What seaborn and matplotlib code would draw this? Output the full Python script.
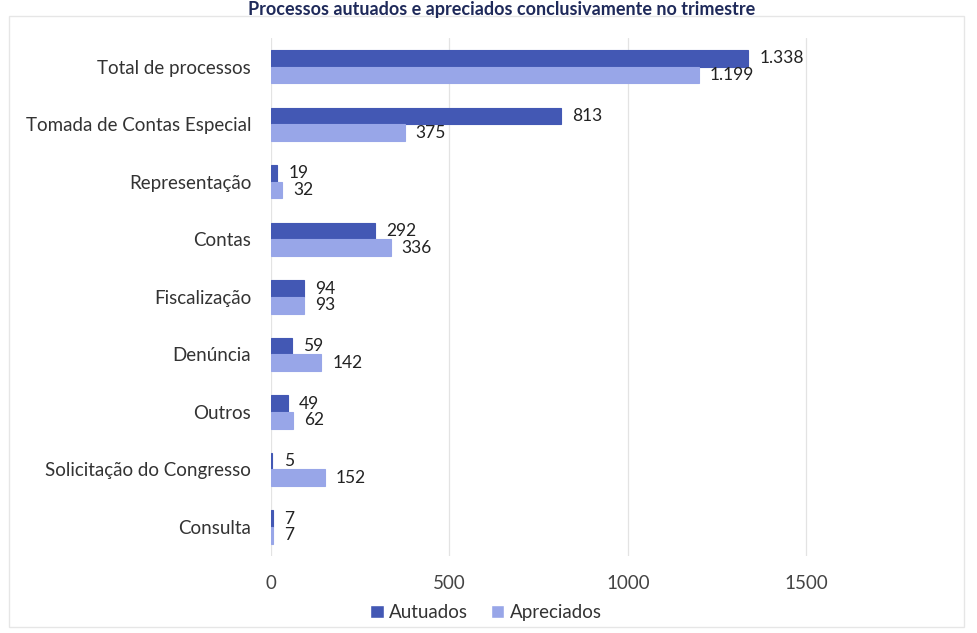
import pandas as pd
import numpy as np
import matplotlib
matplotlib.use("Agg")
import matplotlib.pyplot as plt
from matplotlib.patches import Rectangle
import seaborn as sns

# ------------------------------------------------------------
# Data
# ------------------------------------------------------------
categorias = [
    "Total de processos",
    "Tomada de Contas Especial",
    "Representação",
    "Contas",
    "Fiscalização",
    "Denúncia",
    "Outros",
    "Solicitação do Congresso",
    "Consulta",
]
autuados = [1338, 813, 19, 292, 94, 59, 49, 5, 7]
apreciados = [1199, 375, 32, 336, 93, 142, 62, 152, 7]
series = ["Autuados", "Apreciados"]
xticks = [0, 500, 1000, 1500]

df = pd.DataFrame({
    "categoria": categorias * 2,
    "valor": autuados + apreciados,
    "serie": [series[0]] * len(categorias) + [series[1]] * len(categorias),
})

# ------------------------------------------------------------
# Plot
# ------------------------------------------------------------
sns.set_theme(style="white")
plt.rcParams["font.family"] = ["Lato", "DejaVu Sans"]

fig = plt.figure(figsize=(9.77, 6.33), dpi=100)
ax = fig.add_axes([0.277, 0.122, 0.658, 0.818])

cores = {"Autuados": "#4358B4", "Apreciados": "#98A6E8"}
sns.barplot(data=df, y="categoria", x="valor", hue="serie", order=categorias,
            hue_order=series, palette=cores, width=0.58, orient="h",
            saturation=1, ax=ax)

# thin edge so the tiny bars (5, 7) still show as a line
for cont, s in zip(ax.containers, series):
    for bar in cont:
        bar.set_edgecolor(cores[s])
        bar.set_linewidth(0.8)

def fmt_pt(v):
    return f"{v:,}".replace(",", ".")

for cont, vals in zip(ax.containers, [autuados, apreciados]):
    ax.bar_label(cont, labels=[fmt_pt(v) for v in vals], padding=8,
                 fontsize=12.5, color="#222222")

ax.set_xlim(0, 1800)
ax.set_xticks(xticks)
ax.xaxis.grid(True, color="#E3E3E3", linewidth=0.9)
ax.set_axisbelow(True)
ax.set_xlabel("")
ax.set_ylabel("")
sns.despine(ax=ax, left=True, bottom=True)
ax.tick_params(axis="y", labelsize=13.5, colors="#333333", length=0, pad=14)
ax.tick_params(axis="x", labelsize=13.5, colors="#444444", length=0, pad=14)

ax.legend(loc="upper center", bbox_to_anchor=(0.335, -0.06), ncol=2,
          frameon=False, fontsize=13.5, handlelength=0.7, handleheight=0.7,
          handletextpad=0.3, columnspacing=1.2, labelcolor="#333333")

# title at the very top edge
fig.text(0.513, 0.999, "Processos autuados e apreciados conclusivamente no trimestre",
         ha="center", va="top", fontsize=13, fontweight="bold", color="#1F2A5A")

# faint outer chart border
fig.patches.append(Rectangle((0.009, 0.01), 0.978, 0.965, transform=fig.transFigure,
                             fill=False, edgecolor="#E6E6E6", linewidth=1))

fig.savefig("out.png", dpi=100)
